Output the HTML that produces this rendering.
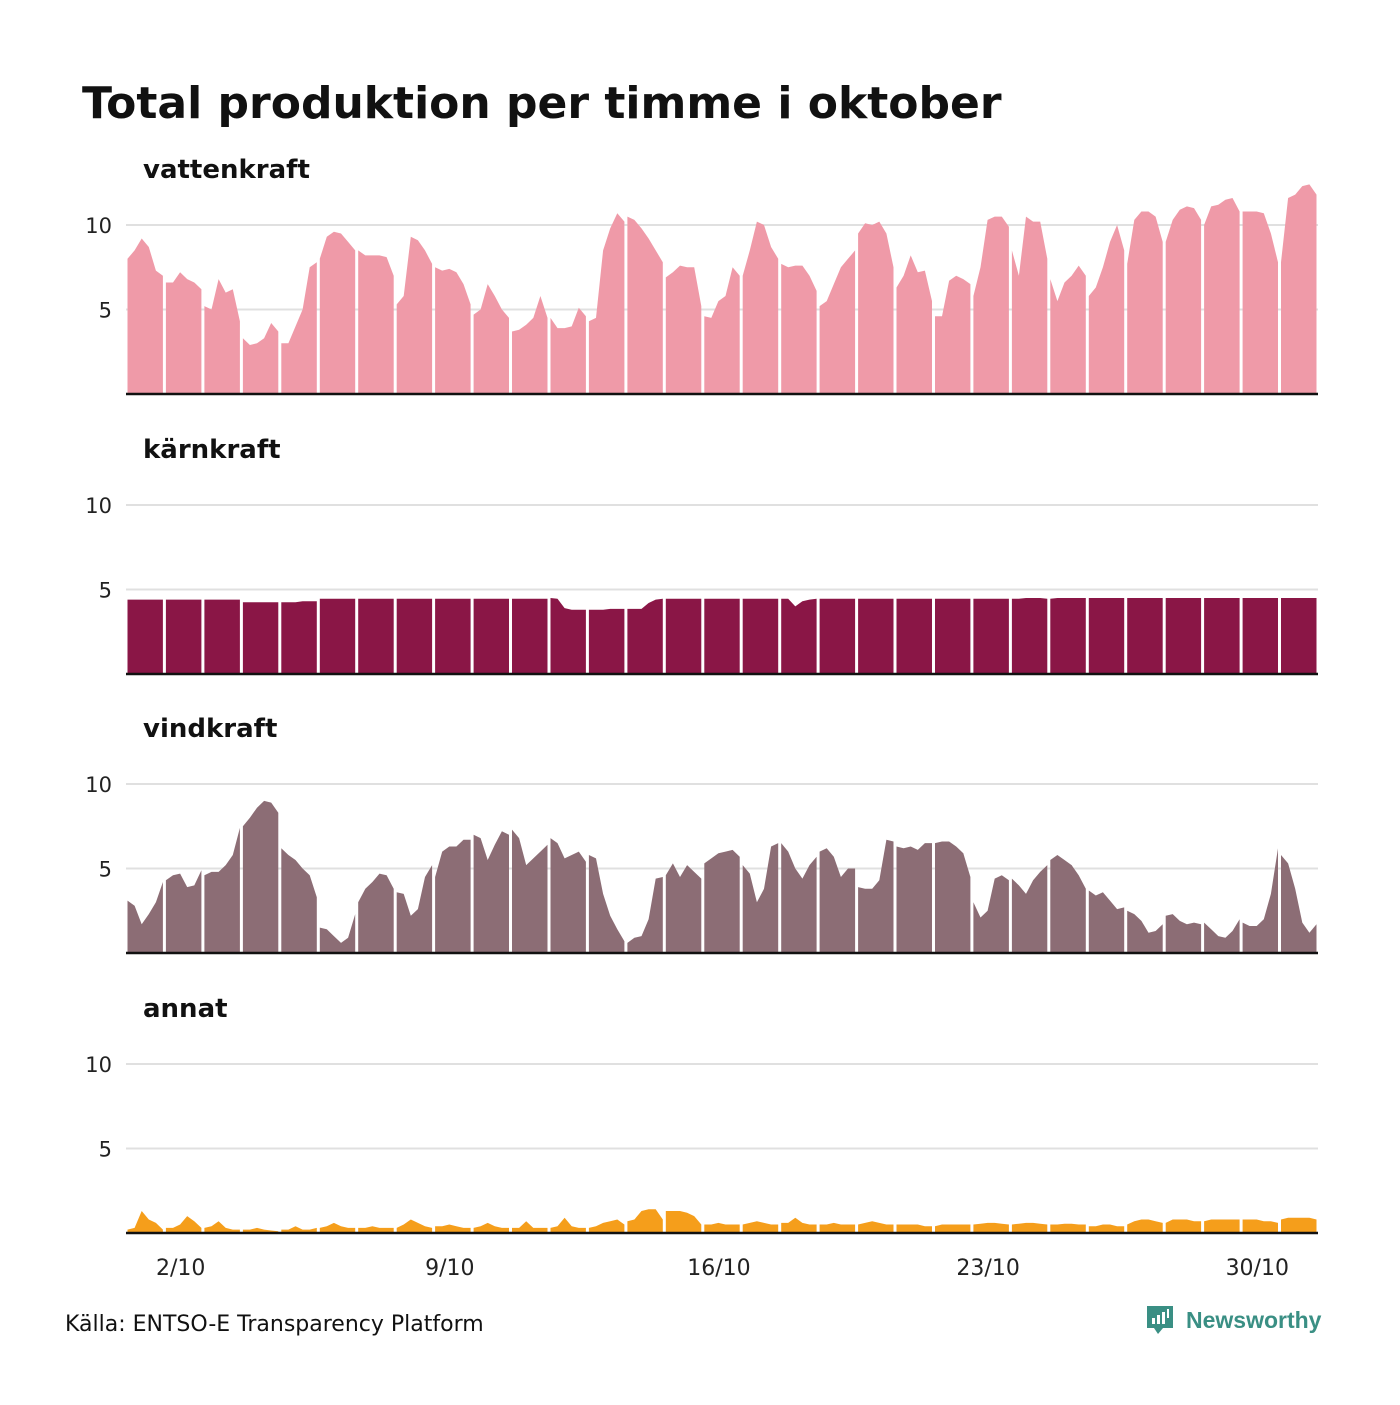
<!DOCTYPE html>
<html><head><meta charset="utf-8"><style>
body{margin:0;background:#fff;width:1400px;height:1400px;overflow:hidden;font-family:"Liberation Sans","DejaVu Sans",sans-serif}
svg text{font-family:"DejaVu Sans","Liberation Sans",sans-serif}
</style></head><body>
<svg id="chart" width="1400" height="1400" xmlns="http://www.w3.org/2000/svg">
<text x="82" y="118" font-size="44" font-weight="bold" fill="#111">Total produktion per timme i oktober</text>
<text x="65" y="1331" font-size="22" fill="#111">Källa: ENTSO-E Transparency Platform</text>
<g>
<path d="M1147 1306h26v22h-10l-5 6-4-6h-7z" fill="#3a8f84"/>
<rect x="1152" y="1318" width="3" height="6" fill="#fff"/><rect x="1157" y="1315" width="3" height="9" fill="#fff"/><rect x="1162" y="1312" width="3" height="12" fill="#fff"/><rect x="1167" y="1309" width="2" height="9" fill="#fff"/>
<text x="1186" y="1328" font-size="23" font-weight="bold" fill="#3a8f84" style="font-family:'Liberation Sans',sans-serif">Newsworthy</text>
</g>
</svg>
<script>
const days = ["2/10","9/10","16/10","23/10","30/10"];
const dayIdx = [1,8,15,22,29];
const yTicks = [5,10];
const vatten = [8,8.5,9.2,8.7,7.3,7.0, 6.6,6.6,7.2,6.8,6.6,6.2, 5.2,5.0,6.8,6.0,6.2,4.3, 3.3,2.9,3.0,3.3,4.2,3.7, 3.0,3.0,4.0,5.0,7.5,7.8, 8.0,9.3,9.6,9.5,9.0,8.5, 8.5,8.2,8.2,8.2,8.1,7.0, 5.3,5.8,9.3,9.1,8.5,7.7, 7.5,7.3,7.4,7.2,6.5,5.3, 4.7,5.0,6.5,5.8,5.0,4.5, 3.7,3.8,4.1,4.5,5.8,4.5, 4.5,3.9,3.9,4.0,5.1,4.6, 4.3,4.5,8.5,9.8,10.7,10.2, 10.5,10.3,9.8,9.2,8.5,7.8, 6.9,7.2,7.6,7.5,7.5,5.2, 4.6,4.5,5.5,5.8,7.5,7.0, 7.0,8.5,10.2,10.0,8.7,8.0, 7.7,7.5,7.6,7.6,7.0,6.1, 5.2,5.5,6.5,7.5,8.0,8.5, 9.5,10.1,10.0,10.2,9.5,7.5, 6.3,7.0,8.2,7.2,7.3,5.5, 4.6,4.6,6.7,7.0,6.8,6.5, 5.8,7.5,10.3,10.5,10.5,9.9, 8.5,7.0,10.5,10.2,10.2,8.0, 6.8,5.5,6.6,7.0,7.6,7.0, 5.8,6.3,7.5,9.0,10.0,8.5, 7.7,10.3,10.8,10.8,10.5,9.0, 9.0,10.3,10.9,11.1,11.0,10.3, 10.0,11.1,11.2,11.5,11.6,10.8, 10.8,10.8,10.8,10.7,9.5,7.8, 7.8,11.6,11.8,12.3,12.4,11.8];
const karn = [4.4,4.4,4.4,4.4,4.4,4.4, 4.4,4.4,4.4,4.4,4.4,4.4, 4.4,4.4,4.4,4.4,4.4,4.4, 4.25,4.25,4.25,4.25,4.25,4.25, 4.25,4.25,4.25,4.3,4.3,4.3, 4.45,4.45,4.45,4.45,4.45,4.45, 4.45,4.45,4.45,4.45,4.45,4.45, 4.45,4.45,4.45,4.45,4.45,4.45, 4.45,4.45,4.45,4.45,4.45,4.45, 4.45,4.45,4.45,4.45,4.45,4.45, 4.45,4.45,4.45,4.45,4.45,4.45, 4.5,4.45,3.9,3.8,3.8,3.8, 3.8,3.8,3.8,3.85,3.85,3.85, 3.85,3.85,3.85,4.2,4.4,4.45, 4.45,4.45,4.45,4.45,4.45,4.45, 4.45,4.45,4.45,4.45,4.45,4.45, 4.45,4.45,4.45,4.45,4.45,4.45, 4.45,4.45,4.0,4.3,4.4,4.45, 4.45,4.45,4.45,4.45,4.45,4.45, 4.45,4.45,4.45,4.45,4.45,4.45, 4.45,4.45,4.45,4.45,4.45,4.45, 4.45,4.45,4.45,4.45,4.45,4.45, 4.45,4.45,4.45,4.45,4.45,4.45, 4.45,4.45,4.5,4.5,4.5,4.45, 4.45,4.5,4.5,4.5,4.5,4.5, 4.5,4.5,4.5,4.5,4.5,4.5, 4.5,4.5,4.5,4.5,4.5,4.5, 4.5,4.5,4.5,4.5,4.5,4.5, 4.5,4.5,4.5,4.5,4.5,4.5, 4.5,4.5,4.5,4.5,4.5,4.5, 4.5,4.5,4.5,4.5,4.5,4.5];
const vind = [3.1,2.8,1.7,2.3,3.0,4.2, 4.3,4.6,4.7,3.9,4.0,4.9, 4.6,4.8,4.8,5.2,5.8,7.4, 7.5,8.0,8.6,9.0,8.9,8.3, 6.2,5.8,5.5,5.0,4.6,3.3, 1.5,1.4,1.0,0.6,0.9,2.3, 3.0,3.8,4.2,4.7,4.6,3.8, 3.6,3.5,2.2,2.6,4.5,5.2, 4.5,6.0,6.3,6.3,6.7,6.7, 7.0,6.8,5.5,6.4,7.2,7.0, 7.3,6.8,5.2,5.6,6.0,6.4, 6.8,6.5,5.6,5.8,6.0,5.4, 5.8,5.6,3.5,2.2,1.4,0.7, 0.6,0.9,1.0,2.0,4.4,4.5, 4.6,5.3,4.5,5.2,4.8,4.4, 5.3,5.6,5.9,6.0,6.1,5.7, 5.2,4.7,3.0,3.8,6.3,6.5, 6.5,6.0,5.0,4.4,5.2,5.7, 6.0,6.2,5.7,4.5,5.0,5.0, 3.9,3.8,3.8,4.3,6.7,6.6, 6.3,6.2,6.3,6.1,6.5,6.5, 6.5,6.6,6.6,6.3,5.9,4.5, 3.0,2.1,2.5,4.4,4.6,4.3, 4.4,4.0,3.5,4.3,4.8,5.2, 5.5,5.8,5.5,5.2,4.6,3.8, 3.7,3.4,3.6,3.1,2.6,2.7, 2.5,2.3,1.9,1.2,1.3,1.7, 2.2,2.3,1.9,1.7,1.8,1.7, 1.8,1.4,1.0,0.9,1.3,2.0, 1.8,1.6,1.6,2.0,3.5,6.2, 5.8,5.3,3.8,1.8,1.2,1.7];
const annat = [0.2,0.3,1.3,0.8,0.6,0.2, 0.3,0.3,0.5,1.0,0.7,0.3, 0.3,0.4,0.7,0.3,0.2,0.2, 0.2,0.2,0.3,0.2,0.15,0.1, 0.2,0.2,0.4,0.2,0.2,0.3, 0.3,0.4,0.6,0.4,0.3,0.3, 0.3,0.3,0.4,0.3,0.3,0.3, 0.3,0.5,0.8,0.6,0.4,0.3, 0.4,0.4,0.5,0.4,0.3,0.3, 0.3,0.4,0.6,0.4,0.3,0.3, 0.3,0.3,0.7,0.3,0.3,0.3, 0.3,0.4,0.9,0.4,0.3,0.3, 0.3,0.4,0.6,0.7,0.8,0.5, 0.7,0.8,1.3,1.4,1.4,0.8, 1.3,1.3,1.3,1.2,1.0,0.5, 0.5,0.5,0.6,0.5,0.5,0.5, 0.5,0.6,0.7,0.6,0.5,0.5, 0.6,0.6,0.9,0.6,0.5,0.5, 0.5,0.5,0.6,0.5,0.5,0.5, 0.5,0.6,0.7,0.6,0.5,0.5, 0.5,0.5,0.5,0.5,0.4,0.4, 0.4,0.5,0.5,0.5,0.5,0.5, 0.5,0.55,0.6,0.6,0.55,0.5, 0.5,0.55,0.6,0.6,0.55,0.5, 0.5,0.5,0.55,0.55,0.5,0.5, 0.4,0.4,0.5,0.5,0.4,0.4, 0.5,0.7,0.8,0.8,0.7,0.6, 0.6,0.8,0.8,0.8,0.7,0.7, 0.7,0.8,0.8,0.8,0.8,0.8, 0.8,0.8,0.8,0.7,0.7,0.6, 0.8,0.9,0.9,0.9,0.9,0.8];

const NS="http://www.w3.org/2000/svg";
const svg=document.getElementById('chart');
const X0=126, DAYW=38.45, PER=6, UNIT=16.9;
function xScale(i){const d=Math.floor(i/PER),k=i%PER;return X0+d*DAYW+1.5+k*(DAYW-3)/(PER-1);}
function mk(t,a){const e=document.createElementNS(NS,t);for(const k in a)e.setAttribute(k,a[k]);svg.appendChild(e);return e;}
const panels=[["vattenkraft",vatten,"#ef9aa8",394],["kärnkraft",karn,"#8a1646",674],["vindkraft",vind,"#8c6d75",953],["annat",annat,"#f59e1b",1233]];
panels.forEach(([name,data,col,base])=>{
  const y=v=>base-v*UNIT;
  yTicks.forEach(t=>{
    const l=mk('line',{x1:126,x2:1318,y1:y(t),y2:y(t),stroke:'#e0e0e0','stroke-width':2});
    
    
    const tx=mk('text',{x:112,y:y(t)+8,'font-size':21,'text-anchor':'end',fill:'#222'});
    tx.textContent=t;
    
    
  });
  const lab=mk('text',{x:143,y:base-216,'font-size':26,'font-weight':'bold',fill:'#111'});
  lab.textContent=name;
  
  
  const nd=data.length/PER;
  for(let d=0;d<nd;d++){
    let pts=[];
    for(let k=0;k<PER;k++){const i=d*PER+k;pts.push(xScale(i).toFixed(1)+','+y(data[i]).toFixed(1));}
    pts.unshift(xScale(d*PER).toFixed(1)+','+base);
    pts.push(xScale(d*PER+PER-1).toFixed(1)+','+base);
    const p=mk('polygon',{points:pts.join(' '),fill:col});
    
    
  }
  const b=mk('line',{x1:126,x2:1318,y1:base,y2:base,stroke:'#111','stroke-width':2.5});
  
  
});
days.forEach((d,j)=>{
  const t=mk('text',{x:X0+dayIdx[j]*DAYW+DAYW/2-3,y:1275,'font-size':22,'text-anchor':'middle',fill:'#222'});
  t.textContent=d;
  
  
});
</script>
</body></html>
